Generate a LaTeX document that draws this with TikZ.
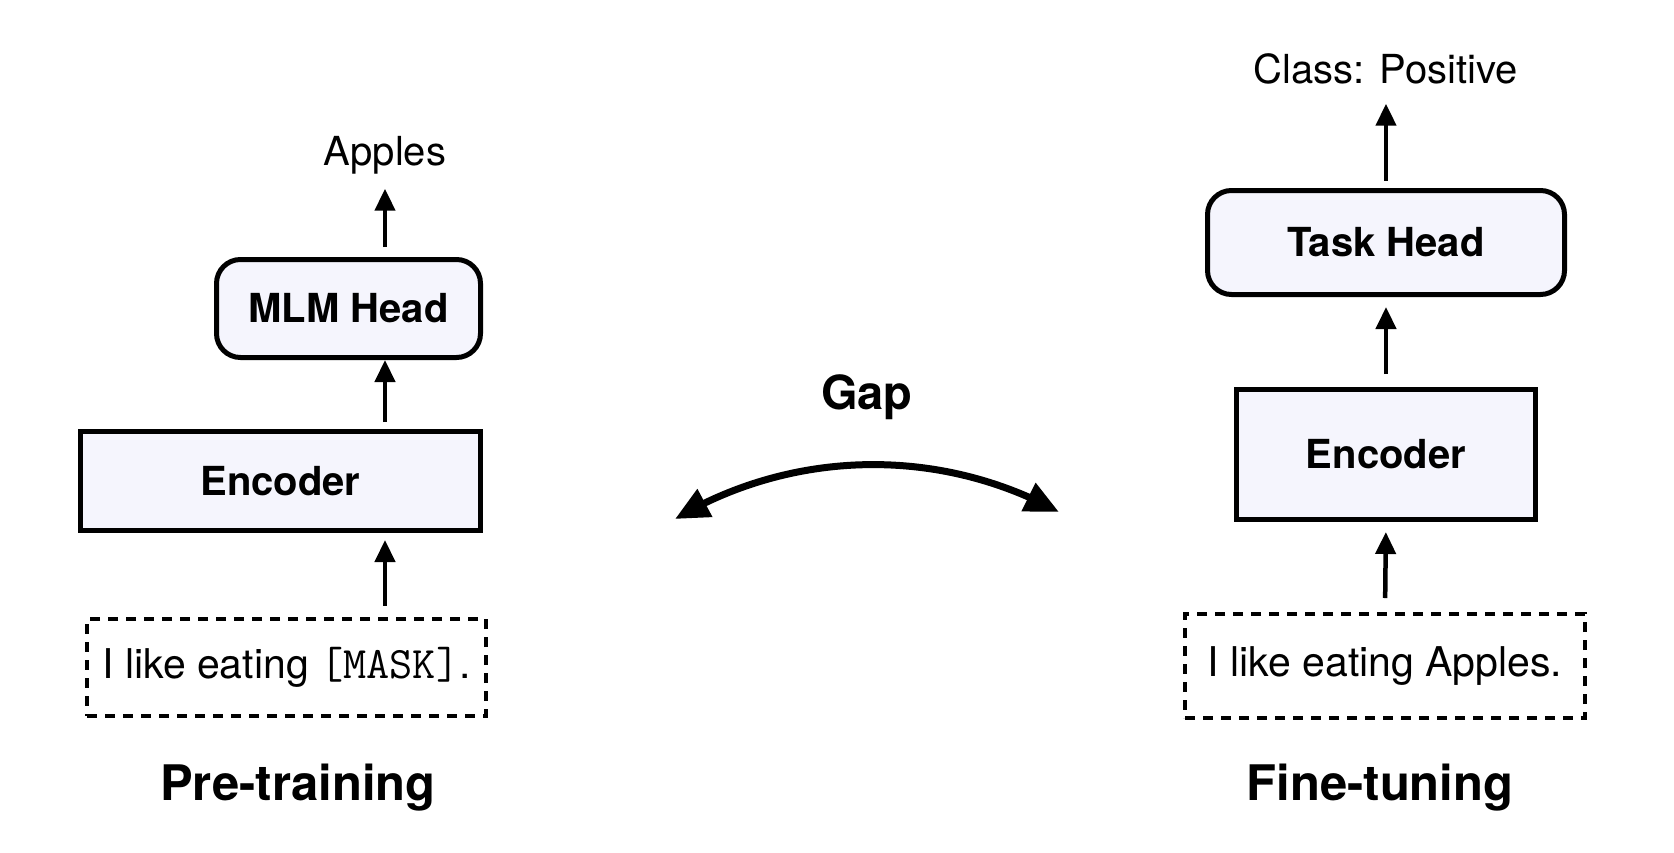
\documentclass[tikz,border=0pt]{standalone}
\usepackage{fontspec}
\setmainfont{TeX Gyre Heros}
\usetikzlibrary{arrows.meta,bending}
\definecolor{boxfill}{HTML}{F5F5FD}
\begin{document}
\begin{tikzpicture}[x=1pt,y=-1pt,
  every node/.style={outer sep=0pt, inner sep=0pt},
  solidbox/.style={draw=black, line width=5pt, fill=boxfill, font=\fontsize{40}{48}\selectfont\bfseries},
  headbox/.style={solidbox, rounded corners=24pt},
  inbox/.style={draw=black, line width=4pt, dash pattern=on 10pt off 8pt, font=\fontsize{41}{48}\selectfont},
  plain/.style={font=\fontsize{40}{48}\selectfont},
  title/.style={font=\fontsize{49}{56}\selectfont\bfseries},
  arr/.style={line width=4.5pt, -{Triangle[length=22pt,width=20pt]}},
  gaparr/.style={line width=7pt, {Triangle[length=34pt,width=30pt,flex]}-{Triangle[length=34pt,width=30pt,flex]}}
]
\useasboundingbox[fill=white] (0,0) rectangle (1674,852);

% ---- Pre-training (left) ----
\node[plain, anchor=base] (apples) at (385,165) {Apples};
\node[headbox, minimum width=264pt, minimum height=98pt] (mlm) at (348.5,308.5) {MLM Head};
\node[solidbox, minimum width=400pt, minimum height=99pt] (encl) at (280.5,481) {Encoder};
\node[inbox, minimum width=399pt, minimum height=97pt] (inl) at (286.5,667.5) {I like eating {\fontsize{45}{48}\ttfamily[MASK]}.};
\node[title, anchor=base] (pre) at (298,800) {Pre-training};

\draw[arr, shorten <=12.5pt, shorten >=15pt] (mlm.north -| apples) -- (apples.south);
\draw[arr, shorten <=9.5pt, shorten >=2.5pt] (encl.north -| apples) -- (mlm.south -| apples);
\draw[arr, shorten <=13.5pt, shorten >=9.5pt] (inl.north -| apples) -- (encl.south -| apples);

% ---- Fine-tuning (right) ----
\node[plain, anchor=base] (cls) at (1386,83) {Class: Positive};
\node[headbox, minimum width=357pt, minimum height=104pt] (task) at (1386,242.5) {Task Head};
\node[solidbox, minimum width=299pt, minimum height=130pt] (encr) at (1386,454.5) {Encoder};
\node[inbox, minimum width=400pt, minimum height=104pt] (inr) at (1385,666) {I like eating Apples.};
\node[title, anchor=base] (fine) at (1380,800) {Fine-tuning};

\draw[arr, shorten <=10pt, shorten >=20pt] (task.north) -- (cls.south);
\draw[arr, shorten <=15.5pt, shorten >=12.5pt] (encr.north) -- (task.south);
\draw[arr, shorten <=16pt, shorten >=12.5pt] (inr.north) -- (encr.south);

% ---- Gap ----
\node[title, font=\fontsize{47}{56}\selectfont\bfseries, anchor=base] (gap) at (867,409) {Gap};
\coordinate (gl) at (675,519);
\coordinate (gr) at (1059,512);
\draw[gaparr] (gl) .. controls (792.6,449.1) and (939,446.3) .. (gr);
\end{tikzpicture}
\end{document}
